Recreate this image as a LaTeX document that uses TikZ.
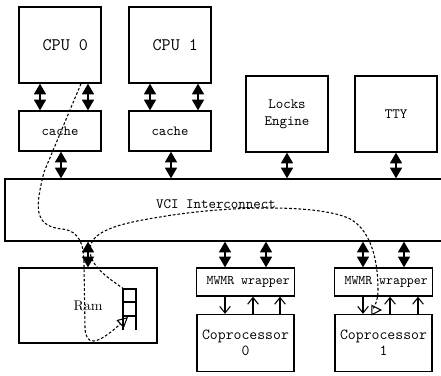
\documentclass[tikz,border=0pt]{standalone}
\usetikzlibrary{arrows.meta}

\tikzset{
  box/.style      = {draw, line width=1pt, align=center, font=\ttfamily},
  cpu/.style      = {box, minimum width=61.5pt, minimum height=57pt, font=\ttfamily\fontsize{13.2}{15}\selectfont},
  cachebox/.style = {box, minimum width=61.5pt, minimum height=30pt, font=\ttfamily\fontsize{10.5}{12}\selectfont},
  periph/.style   = {box, minimum width=61.5pt, minimum height=57pt, font=\ttfamily\fontsize{10.7}{12.5}\selectfont},
  wrapper/.style  = {box, minimum width=72.75pt, minimum height=21pt, font=\ttfamily\fontsize{9.9}{11}\selectfont},
  copro/.style    = {box, minimum width=72.75pt, minimum height=42.75pt, font=\ttfamily\fontsize{11.5}{12}\selectfont},
  bus/.style      = {{Triangle[length=8pt,width=9pt]}-{Triangle[length=8pt,width=9pt]}, line width=1pt},
  sig/.style      = {-{Straight Barb[length=5pt,width=8pt]}, line width=0.8pt},
  flow/.style     = {line width=0.8pt, dash pattern=on 2pt off 1.5pt, -{Triangle[open,length=8pt,width=8pt]}}
}

\begin{document}
\begin{tikzpicture}[x=0.75pt, y=-0.75pt]
  \useasboundingbox (0,0) rectangle (441,375);
  \clip (0,0) rectangle (441,375);

  % processors and their caches
  \node[cpu] (cpu0) at (60,45) {\hspace*{8pt}CPU 0};
  \node[cpu] (cpu1) at (170,45) {\hspace*{8pt}CPU 1};
  \node[cachebox] (cache0) at (60,131) {cache};
  \node[cachebox] (cache1) at (170,131) {cache};
  \node[periph] (locks) at (287,114) {Locks\\Engine};
  \node[periph] (tty) at (396,114) {TTY};

  % interconnect
  \node[box, minimum width=330pt, minimum height=46.5pt] (vci) at (225,210) {};
  \node[font=\ttfamily\fontsize{10.7}{12}\selectfont] (vcilabel) at (216,204) {VCI Interconnect};

  % memory with its fifo
  \node[box, font=\rmfamily\fontsize{10.5}{12}\selectfont, minimum width=103.5pt, minimum height=56.25pt] (ram) at (88,305.5) {Ram};
  \draw[line width=0.8pt] (123,330) -- (123,289) -- (136,289) -- (136,330);
  \draw[line width=0.8pt] (123,302) -- (136,302) (123,316) -- (136,316);
  \coordinate (fifo) at (124,289);

  % coprocessors
  \node[wrapper] (mwmr0) at (245.5,282) {\hspace*{4pt}MWMR wrapper};
  \node[wrapper] (mwmr1) at (383.5,282) {\hspace*{4pt}MWMR wrapper};
  \node[copro] (copro0) at (245.5,343) {Coprocessor\\0};
  \node[copro] (copro1) at (383.5,343) {Coprocessor\\1};

  % bus links
  \foreach \x in {40,88}
    \draw[bus] (cpu0.south -| \x,0) -- (cache0.north -| \x,0);
  \foreach \x in {150,198}
    \draw[bus] (cpu1.south -| \x,0) -- (cache1.north -| \x,0);
  \draw[bus] (cache0.south -| 61,0) -- (vci.north -| 61,0);
  \draw[bus] (cache1.south -| 171,0) -- (vci.north -| 171,0);
  \draw[bus] (locks.south) -- (vci.north -| locks.south);
  \draw[bus] (tty.south) -- (vci.north -| tty.south);
  \draw[bus] (vci.south -| 88,0) -- (ram.north -| 88,0);
  \foreach \x in {225,266}
    \draw[bus] (vci.south -| \x,0) -- (mwmr0.north -| \x,0);
  \foreach \x in {363,404}
    \draw[bus] (vci.south -| \x,0) -- (mwmr1.north -| \x,0);

  % wrapper <-> coprocessor
  \draw[sig] (mwmr0.south -| 225,0) -- (copro0.north -| 225,0);
  \foreach \x in {253,280}
    \draw[sig] (copro0.north -| \x,0) -- (mwmr0.south -| \x,0);
  \draw[sig] (mwmr1.south -| 363,0) -- (copro1.north -| 363,0);
  \foreach \x in {390,418}
    \draw[sig] (copro1.north -| \x,0) -- (mwmr1.south -| \x,0);

  % data path: cpu -> fifo -> coprocessor
  \draw[flow] (cpu0.south -| 81,0) -- (44,172)
    .. controls (36,205) and (32,226) .. (62,229)
    .. controls (80,231) and (84,245) .. (84,265) -- (85,328)
    .. controls (86,346) and (96,346) .. (128,317);
  \draw[flow] (fifo) .. controls (108,278) and (90,266) .. (90,250)
    .. controls (90,232) and (115,224) .. (160,217)
    .. controls (230,205) and (325,204) .. (352,220)
    .. controls (372,233) and (378,262) .. (378,290)
    .. controls (378,302) and (373,310) .. (382,310);
\end{tikzpicture}
\end{document}
